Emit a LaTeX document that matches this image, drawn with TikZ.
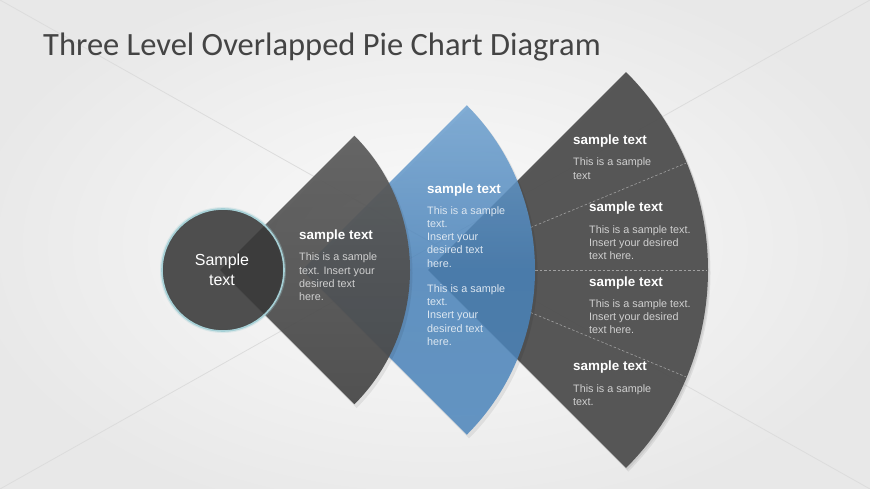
\documentclass[tikz,border=0pt]{standalone}
\usepackage{fontspec}
\setmainfont{Liberation Sans}
\newfontfamily\titlefont{Carlito}
\usetikzlibrary{calc}
\definecolor{bgin}{HTML}{FBFBFB}
\definecolor{bgout}{HTML}{E8E8E8}
\definecolor{diagline}{HTML}{DCDCDC}
\definecolor{titlegray}{HTML}{444444}
\definecolor{secdark}{HTML}{505050}
\definecolor{secdarktop}{HTML}{5C5C5C}
\definecolor{secdarkbot}{HTML}{474747}
\definecolor{bluetop}{HTML}{6FA2D1}
\definecolor{bluemid}{HTML}{4A83BA}
\definecolor{bluebot}{HTML}{4E87BD}
\definecolor{circfill}{HTML}{383838}
\definecolor{circline}{HTML}{A6D0D6}
\definecolor{bodygray}{HTML}{D0D0D0}
\definecolor{bodyblue}{HTML}{DDE7F1}
\definecolor{dashgray}{HTML}{A0A0A0}
\newcommand\sectorpath[2]{#1 -- +(-45:#2) arc[start angle=-45, end angle=45, radius=#2] -- cycle}
\tikzset{
  diag/.style={draw=diagline, line width=0.8pt},
  softshadow/.style={fill=black, fill opacity=0.07},
  head/.style={font=\bfseries\fontsize{13.4}{16}\selectfont, text=white, inner sep=0pt, anchor=base west},
  body/.style={font=\fontsize{10.8}{13.3}\selectfont, text=bodygray, inner sep=0pt, anchor=north west, align=left},
  bodyb/.style={body, text=bodyblue},
  divider/.style={draw=dashgray, dashed, dash pattern=on 2.5pt off 2pt, line width=0.6pt},
}
\begin{document}
\begin{tikzpicture}[x=1pt,y=-1pt]
\useasboundingbox (0,0) rectangle (870,489);
\shade[inner color=bgin, outer color=bgout] (-40,-40) rectangle (910,529);
\draw[diag] (0,0) -- (870,489);
\draw[diag] (870,0) -- (0,489);

% title
\node[font=\titlefont\fontsize{32.5}{38}\selectfont, text=titlegray, anchor=base west, inner sep=0pt] (title) at (43,55.5) {Three Level Overlapped Pie Chart Diagram};

\coordinate (c3) at (428,270);
\coordinate (c2) at (302,270);
\coordinate (c1) at (220,270);

% level 3 sector
\fill[softshadow] \sectorpath{([shift={(1.5,3)}]c3)}{281pt};
\fill[softshadow] \sectorpath{([shift={(1,1.5)}]c3)}{280.5pt};
\fill[secdark, fill opacity=0.95] \sectorpath{(c3)}{280pt};
\draw[divider] ($(c3)+(22.5:111pt)$) -- ($(c3)+(22.5:279pt)$);
\draw[divider] ($(c3)+(0:107pt)$) -- ($(c3)+(0:279pt)$);
\draw[divider] ($(c3)+(-22.5:111pt)$) -- ($(c3)+(-22.5:279pt)$);

% level 2 sector (blue)
\fill[softshadow] \sectorpath{([shift={(1.5,3)}]c2)}{234pt};
\shade[top color=bluetop, bottom color=bluebot, middle color=bluemid, opacity=0.85] \sectorpath{(c2)}{233pt};

% level 1 sector
\fill[softshadow] \sectorpath{([shift={(1.5,3)}]c1)}{191pt};
\shade[top color=secdarktop, bottom color=secdarkbot, opacity=0.93] \sectorpath{(c1)}{190pt};

% centre circle
\draw[circline, line width=4pt, opacity=0.3] (223,270) circle[radius=61pt];
\fill[circfill, fill opacity=0.88] (223,270) circle[radius=61pt];
\draw[circline, line width=1.6pt] (223,270) circle[radius=61pt];
\node[font=\fontsize{16}{20}\selectfont, text=white, align=center, inner sep=0pt] (center) at (222,270) {Sample\\text};

% level 1 texts
\node[head] (h1) at (299,239.5) {sample text};
\node[body] (b1) at (299,252.8) {This is a sample\\text. Insert your\\desired text\\here.};

% level 2 texts
\node[head] (h2) at (427,193.5) {sample text};
\node[bodyb] (b2a) at (427,206) {This is a sample\\text.\\Insert your\\desired text\\here.};
\node[bodyb] (b2b) at (427,284.3) {This is a sample\\text.\\Insert your\\desired text\\here.};

% level 3 texts
\node[head] (h3a) at (573,144.5) {sample text};
\node[body] (b3a) at (573,157.7) {This is a sample\\text};
\node[head] (h3b) at (589,211.5) {sample text};
\node[body] (b3b) at (589,225.3) {This is a sample text.\\Insert your desired\\text here.};
\node[head] (h3c) at (589,286) {sample text};
\node[body] (b3c) at (589,299.3) {This is a sample text.\\Insert your desired\\text here.};
\node[head] (h3d) at (573,370.5) {sample text};
\node[body] (b3d) at (573,384.3) {This is a sample\\text.};
\end{tikzpicture}
\end{document}
